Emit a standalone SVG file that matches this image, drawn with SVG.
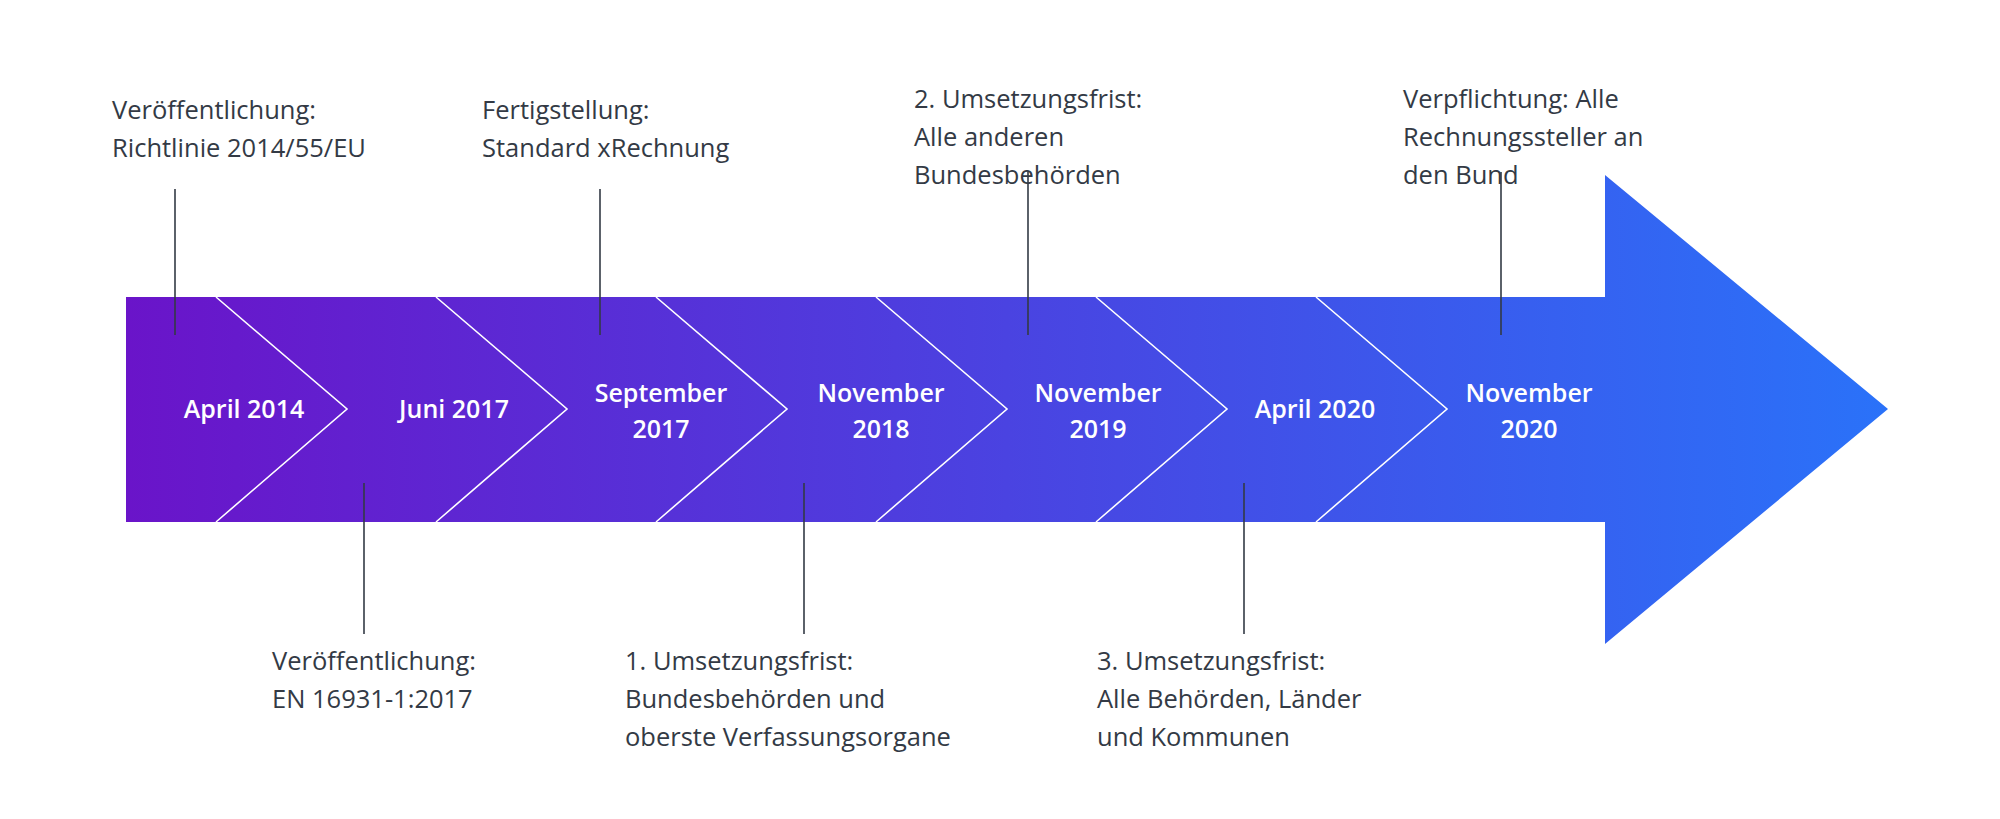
<svg xmlns="http://www.w3.org/2000/svg" width="2000" height="819" viewBox="0 0 2000 819">
<defs>
<linearGradient id="g" x1="126" y1="0" x2="1888" y2="0" gradientUnits="userSpaceOnUse">
<stop offset="0" stop-color="#6a14c9"/><stop offset="1" stop-color="#2a72f9"/>
</linearGradient>
<style>
.w{fill:#fff;font-family:"Open Sans",sans-serif;font-size:25px;font-weight:600;text-anchor:middle}
.t{fill:#333a45;font-family:"Open Sans",sans-serif;font-size:25.5px}
.c{fill:none;stroke:#fff;stroke-width:1.6}
.l{stroke:#333a45;stroke-width:1.6}
</style>
</defs>
<rect width="2000" height="819" fill="#fff"/>
<g id="arrow">
<polygon points="126,297 1605,297 1605,175 1888,409 1605,644 1605,522 126,522" fill="url(#g)"/>
<polyline class="c" points="216,297 347,409 216,522"/>
<polyline class="c" points="436,297 567,409 436,522"/>
<polyline class="c" points="656,297 787,409 656,522"/>
<polyline class="c" points="876,297 1007,409 876,522"/>
<polyline class="c" points="1096,297 1227,409 1096,522"/>
<polyline class="c" points="1316,297 1447,409 1316,522"/>
</g>
<g id="dates">
<text class="w" x="244" y="418">April 2014</text>
<text class="w" x="454" y="418">Juni 2017</text>
<text class="w" x="661" y="402">September<tspan x="661" y="438">2017</tspan></text>
<text class="w" x="881" y="402">November<tspan x="881" y="438">2018</tspan></text>
<text class="w" x="1098" y="402">November<tspan x="1098" y="438">2019</tspan></text>
<text class="w" x="1315" y="418">April 2020</text>
<text class="w" x="1529" y="402">November<tspan x="1529" y="438">2020</tspan></text>
</g>
<g id="connectors">
<line class="l" x1="175" y1="189" x2="175" y2="335"/>
<line class="l" x1="364" y1="483" x2="364" y2="634"/>
<line class="l" x1="600" y1="189" x2="600" y2="335"/>
<line class="l" x1="804" y1="483" x2="804" y2="634"/>
<line class="l" x1="1028" y1="172" x2="1028" y2="335"/>
<line class="l" x1="1244" y1="483" x2="1244" y2="634"/>
<line class="l" x1="1501" y1="172" x2="1501" y2="335"/>
</g>
<g id="labels">
<text class="t" x="112" y="119">Veröffentlichung:<tspan x="112" y="157">Richtlinie 2014/55/EU</tspan></text>
<text class="t" x="482" y="119">Fertigstellung:<tspan x="482" y="157">Standard xRechnung</tspan></text>
<text class="t" x="914" y="108">2. Umsetzungsfrist:<tspan x="914" y="146">Alle anderen</tspan><tspan x="914" y="184">Bundesbehörden</tspan></text>
<text class="t" x="1403" y="108">Verpflichtung: Alle<tspan x="1403" y="146">Rechnungssteller an</tspan><tspan x="1403" y="184">den Bund</tspan></text>
<text class="t" x="272" y="670">Veröffentlichung:<tspan x="272" y="708">EN 16931-1:2017</tspan></text>
<text class="t" x="625" y="670">1. Umsetzungsfrist:<tspan x="625" y="708">Bundesbehörden und</tspan><tspan x="625" y="746">oberste Verfassungsorgane</tspan></text>
<text class="t" x="1097" y="670">3. Umsetzungsfrist:<tspan x="1097" y="708">Alle Behörden, Länder</tspan><tspan x="1097" y="746">und Kommunen</tspan></text>
</g>
</svg>
